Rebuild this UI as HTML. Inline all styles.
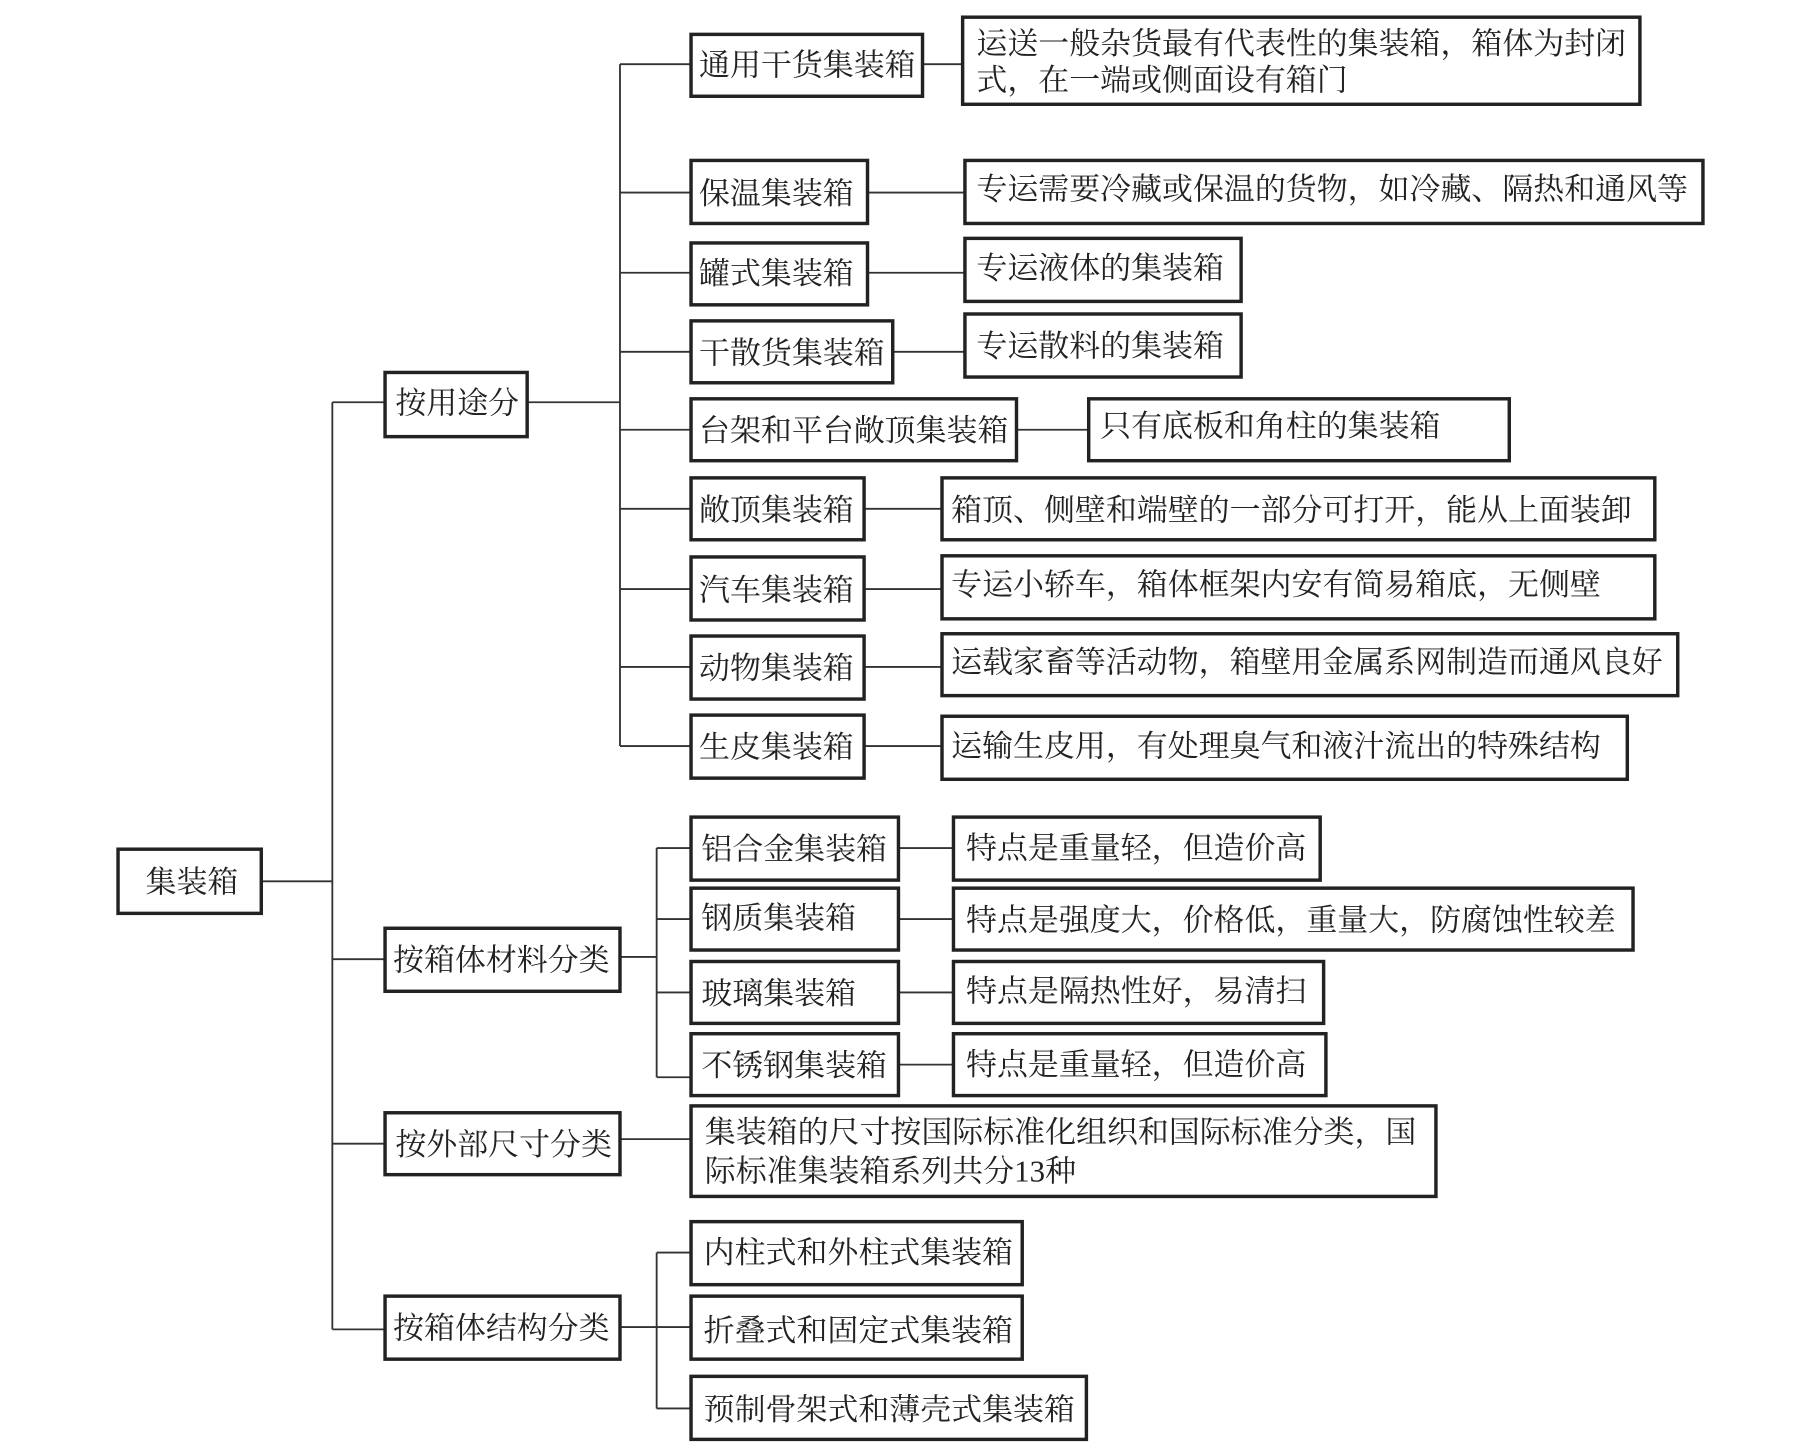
<!DOCTYPE html>
<html><head><meta charset="utf-8"><style>
html,body{margin:0;padding:0;background:#fff;}
svg{display:block;}
text{font-family:"Liberation Serif","Noto Serif CJK SC",serif;font-size:27px;fill:#222;}
.b{fill:#fff;stroke:#222;stroke-width:3;}
.l{stroke:#333;stroke-width:1.6;fill:none;}
</style></head><body>
<svg width="1796" height="1456" viewBox="0 0 1567.2 1270.5" preserveAspectRatio="none" xmlns="http://www.w3.org/2000/svg">
<path class="l" d="M228 769H290M290 351V1160M290 351H336M290 837H336M290 998H336M290 1160H336"/>
<path class="l" d="M460 351H541M541 56V651M541 56H603M541 168H603M541 238H603M541 307H603M541 375H603M541 444H603M541 514H603M541 582H603M541 651H603"/>
<path class="l" d="M805 56H840M757 168H842M757 238H842M779 307H842M887 375H950M754 444H822M754 514H822M754 582H822M754 651H822"/>
<path class="l" d="M541 835H573M573 740V940M573 740H603M573 802H603M573 866H603M573 940H603M784 740H832M784 802H832M784 866H832M784 929H832"/>
<path class="l" d="M541 994H603"/>
<path class="l" d="M541 1158H573M573 1093V1229M573 1093H603M573 1229H603M573 1158H603"/>
<rect class="b" x="103" y="741" width="125" height="56"/><text x="127" y="779">集装箱</text>
<rect class="b" x="336" y="325" width="124" height="56"/><text x="345" y="361">按用途分</text>
<rect class="b" x="336" y="810" width="205" height="55"/><text x="343" y="847">按箱体材料分类</text>
<rect class="b" x="336" y="971" width="205" height="54"/><text x="345" y="1008">按外部尺寸分类</text>
<rect class="b" x="336" y="1131" width="205" height="55"/><text x="343" y="1168">按箱体结构分类</text>
<rect class="b" x="603" y="30" width="202" height="54"/><text x="610" y="66">通用干货集装箱</text>
<rect class="b" x="840" y="15" width="591" height="76"/><text x="852" y="47">运送一般杂货最有代表性的集装箱，箱体为封闭</text><text x="852" y="79">式，在一端或侧面设有箱门</text>
<rect class="b" x="603" y="140" width="154" height="55"/><text x="610" y="178">保温集装箱</text>
<rect class="b" x="842" y="140" width="644" height="55"/><text x="852" y="174">专运需要冷藏或保温的货物，如冷藏、隔热和通风等</text>
<rect class="b" x="603" y="212" width="154" height="54"/><text x="610" y="248">罐式集装箱</text>
<rect class="b" x="842" y="208" width="241" height="55"/><text x="852" y="243">专运液体的集装箱</text>
<rect class="b" x="603" y="280" width="176" height="54"/><text x="610" y="317">干散货集装箱</text>
<rect class="b" x="842" y="274" width="241" height="55"/><text x="852" y="311">专运散料的集装箱</text>
<rect class="b" x="603" y="348" width="284" height="54"/><text x="610" y="385">台架和平台敞顶集装箱</text>
<rect class="b" x="950" y="348" width="367" height="54"/><text x="960" y="381">只有底板和角柱的集装箱</text>
<rect class="b" x="603" y="417" width="151" height="54"/><text x="610" y="454">敞顶集装箱</text>
<rect class="b" x="822" y="417" width="622" height="54"/><text x="830" y="454">箱顶、侧壁和端壁的一部分可打开，能从上面装卸</text>
<rect class="b" x="603" y="486" width="151" height="55"/><text x="610" y="524">汽车集装箱</text>
<rect class="b" x="822" y="485" width="622" height="55"/><text x="830" y="519">专运小轿车，箱体框架内安有简易箱底，无侧壁</text>
<rect class="b" x="603" y="555" width="151" height="55"/><text x="610" y="592">动物集装箱</text>
<rect class="b" x="822" y="553" width="642" height="54"/><text x="830" y="587">运载家畜等活动物，箱壁用金属系网制造而通风良好</text>
<rect class="b" x="603" y="624" width="151" height="55"/><text x="610" y="661">生皮集装箱</text>
<rect class="b" x="822" y="625" width="598" height="55"/><text x="830" y="660">运输生皮用，有处理臭气和液汁流出的特殊结构</text>
<rect class="b" x="603" y="713" width="181" height="55"/><text x="612" y="750">铝合金集装箱</text>
<rect class="b" x="832" y="713" width="320" height="55"/><text x="843" y="749">特点是重量轻，但造价高</text>
<rect class="b" x="603" y="775" width="181" height="54"/><text x="612" y="810">钢质集装箱</text>
<rect class="b" x="832" y="775" width="593" height="54"/><text x="843" y="812">特点是强度大，价格低，重量大，防腐蚀性较差</text>
<rect class="b" x="603" y="839" width="181" height="54"/><text x="612" y="876">玻璃集装箱</text>
<rect class="b" x="832" y="839" width="323" height="54"/><text x="843" y="874">特点是隔热性好，易清扫</text>
<rect class="b" x="603" y="902" width="181" height="54"/><text x="612" y="939">不锈钢集装箱</text>
<rect class="b" x="832" y="902" width="325" height="54"/><text x="843" y="938">特点是重量轻，但造价高</text>
<rect class="b" x="603" y="965" width="650" height="79"/><text x="615" y="997">集装箱的尺寸按国际标准化组织和国际标准分类，国</text><text x="615" y="1031">际标准集装箱系列共分13种</text>
<rect class="b" x="603" y="1066" width="289" height="55"/><text x="614" y="1102">内柱式和外柱式集装箱</text>
<rect class="b" x="603" y="1131" width="289" height="55"/><text x="614" y="1170">折叠式和固定式集装箱</text>
<rect class="b" x="603" y="1201" width="345" height="55"/><text x="614" y="1239">预制骨架式和薄壳式集装箱</text>
</svg>
</body></html>
